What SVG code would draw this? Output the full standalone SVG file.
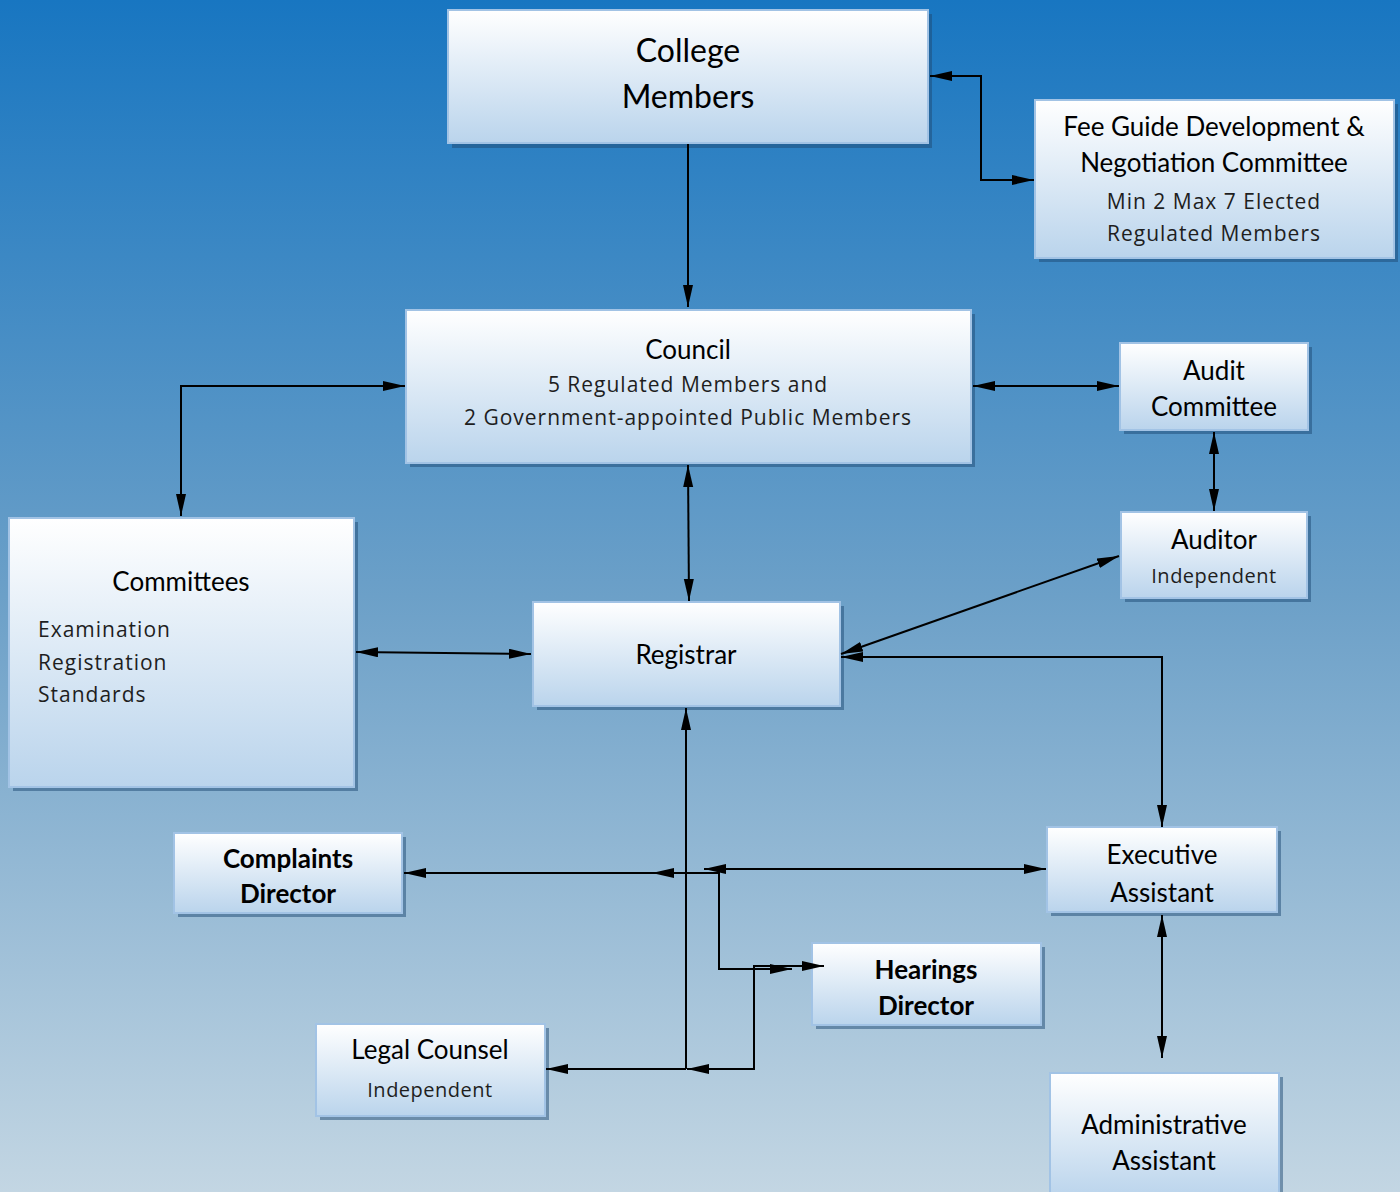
<svg xmlns="http://www.w3.org/2000/svg" width="1400" height="1192" viewBox="0 0 1400 1192">
<defs>
<linearGradient id="bg" x1="0" y1="0" x2="0" y2="1">
<stop offset="0" stop-color="#1876c1"/>
<stop offset="0.5" stop-color="#6ca0c8"/>
<stop offset="1" stop-color="#c3d6e3"/>
</linearGradient>
<linearGradient id="nodefill" x1="0" y1="0" x2="0" y2="1">
<stop offset="0" stop-color="#ffffff"/>
<stop offset="1" stop-color="#bad4ec"/>
</linearGradient>
<marker id="arr" markerUnits="userSpaceOnUse" markerWidth="24" markerHeight="12" refX="22" refY="5" orient="auto-start-reverse">
<path d="M0,0 L22,5 L0,10 z" fill="#000"/>
</marker>
</defs>
<style>
.box{fill:url(#nodefill);stroke:#a2c3e5;stroke-width:2}
.sh{fill:#1d4a73;opacity:0.5}
.t{font-family:Lato,"Open Sans",sans-serif;font-size:26px;fill:#000;text-anchor:middle}
.b{font-weight:bold}
.s{font-family:"Open Sans","Noto Sans",sans-serif;font-size:20px;fill:#1e1e1e;text-anchor:middle;letter-spacing:0.5px}
.m{font-size:21px;letter-spacing:1px}
.c{fill:none;stroke:#000;stroke-width:2}
</style>
<rect x="0" y="0" width="1400" height="1192" fill="url(#bg)"/>

<g id="college-members">
<rect class="sh" x="452" y="14" width="480" height="134"/>
<rect class="box" x="448" y="10" width="480" height="133"/>
<text class="t" x="688" y="62" style="font-size:32px">College</text>
<text class="t" x="688" y="108" style="font-size:32px">Members</text>
</g>

<g id="fee-guide">
<rect class="sh" x="1039" y="104" width="359" height="158"/>
<rect class="box" x="1035" y="100" width="359" height="158"/>
<text class="t" x="1214" y="136">Fee Guide Development &amp;</text>
<text class="t" x="1214" y="172">Negotiation Committee</text>
<text class="s m" x="1214" y="209">Min 2 Max 7 Elected</text>
<text class="s m" x="1214" y="241">Regulated Members</text>
</g>

<g id="council">
<rect class="sh" x="410" y="314" width="565" height="153"/>
<rect class="box" x="406" y="310" width="565" height="153"/>
<text class="t" x="688" y="359">Council</text>
<text class="s m" x="688" y="392">5 Regulated Members and</text>
<text class="s m" x="688" y="425">2 Government-appointed Public Members</text>
</g>

<g id="audit-committee">
<rect class="sh" x="1124" y="347" width="188" height="87"/>
<rect class="box" x="1120" y="343" width="188" height="87"/>
<text class="t" x="1214" y="380">Audit</text>
<text class="t" x="1214" y="416">Committee</text>
</g>

<g id="auditor">
<rect class="sh" x="1125" y="516" width="186" height="86"/>
<rect class="box" x="1121" y="512" width="186" height="86"/>
<text class="t" x="1214" y="549">Auditor</text>
<text class="s" x="1214" y="583">Independent</text>
</g>

<g id="committees">
<rect class="sh" x="13" y="522" width="345" height="269"/>
<rect class="box" x="9" y="518" width="345" height="269"/>
<text class="t" x="181" y="591">Committees</text>
<text class="s m" x="38" y="637" style="text-anchor:start">Examination</text>
<text class="s m" x="38" y="670" style="text-anchor:start">Registration</text>
<text class="s m" x="38" y="702" style="text-anchor:start">Standards</text>
</g>

<g id="registrar">
<rect class="sh" x="537" y="606" width="307" height="104"/>
<rect class="box" x="533" y="602" width="307" height="104"/>
<text class="t" x="686" y="664">Registrar</text>
</g>

<g id="complaints-director">
<rect class="sh" x="178" y="837" width="228" height="80"/>
<rect class="box" x="174" y="833" width="228" height="80"/>
<text class="t b" x="288" y="868">Complaints</text>
<text class="t b" x="288" y="903">Director</text>
</g>

<g id="executive-assistant">
<rect class="sh" x="1051" y="831" width="230" height="85"/>
<rect class="box" x="1047" y="827" width="230" height="85"/>
<text class="t" x="1162" y="864">Executive</text>
<text class="t" x="1162" y="902">Assistant</text>
</g>

<g id="hearings-director">
<rect class="sh" x="816" y="947" width="229" height="82"/>
<rect class="box" x="812" y="943" width="229" height="82"/>
<text class="t b" x="926" y="979">Hearings</text>
<text class="t b" x="926" y="1015">Director</text>
</g>

<g id="legal-counsel">
<rect class="sh" x="320" y="1028" width="229" height="92"/>
<rect class="box" x="316" y="1024" width="229" height="92"/>
<text class="t" x="430" y="1059">Legal Counsel</text>
<text class="s" x="430" y="1097">Independent</text>
</g>

<g id="administrative-assistant">
<rect class="sh" x="1054" y="1077" width="229" height="120"/>
<rect class="box" x="1050" y="1073" width="229" height="125"/>
<text class="t" x="1164" y="1134">Administrative</text>
<text class="t" x="1164" y="1170">Assistant</text>
</g>

<g id="connectors">
<path class="c" d="M688,144 V307" marker-end="url(#arr)"/>
<path class="c" d="M930,76 H981 V180 H1034" marker-start="url(#arr)" marker-end="url(#arr)"/>
<path class="c" d="M973,386 H1119" marker-start="url(#arr)" marker-end="url(#arr)"/>
<path class="c" d="M1214,432 V511" marker-start="url(#arr)" marker-end="url(#arr)"/>
<path class="c" d="M405,386 H181 V516" marker-start="url(#arr)" marker-end="url(#arr)"/>
<path class="c" d="M688,465 L689,601" marker-start="url(#arr)" marker-end="url(#arr)"/>
<path class="c" d="M356,652 L531,654" marker-start="url(#arr)" marker-end="url(#arr)"/>
<path class="c" d="M841,654 L1119,556" marker-start="url(#arr)" marker-end="url(#arr)"/>
<path class="c" d="M841,657 H1162 V827" marker-start="url(#arr)" marker-end="url(#arr)"/>
<path class="c" d="M686,1069 V708" marker-end="url(#arr)"/>
<path class="c" d="M719,873 H404" marker-end="url(#arr)"/>
<path class="c" d="M792,969 H719 V873 H652" marker-start="url(#arr)" marker-end="url(#arr)"/>
<path class="c" d="M1046,869 H704" marker-start="url(#arr)" marker-end="url(#arr)"/>
<path class="c" d="M824,966 H754 V1069 H687" marker-start="url(#arr)" marker-end="url(#arr)"/>
<path class="c" d="M686,1069 H546" marker-end="url(#arr)"/>
<path class="c" d="M1162,915 V1058" marker-start="url(#arr)" marker-end="url(#arr)"/>
</g>
</svg>
